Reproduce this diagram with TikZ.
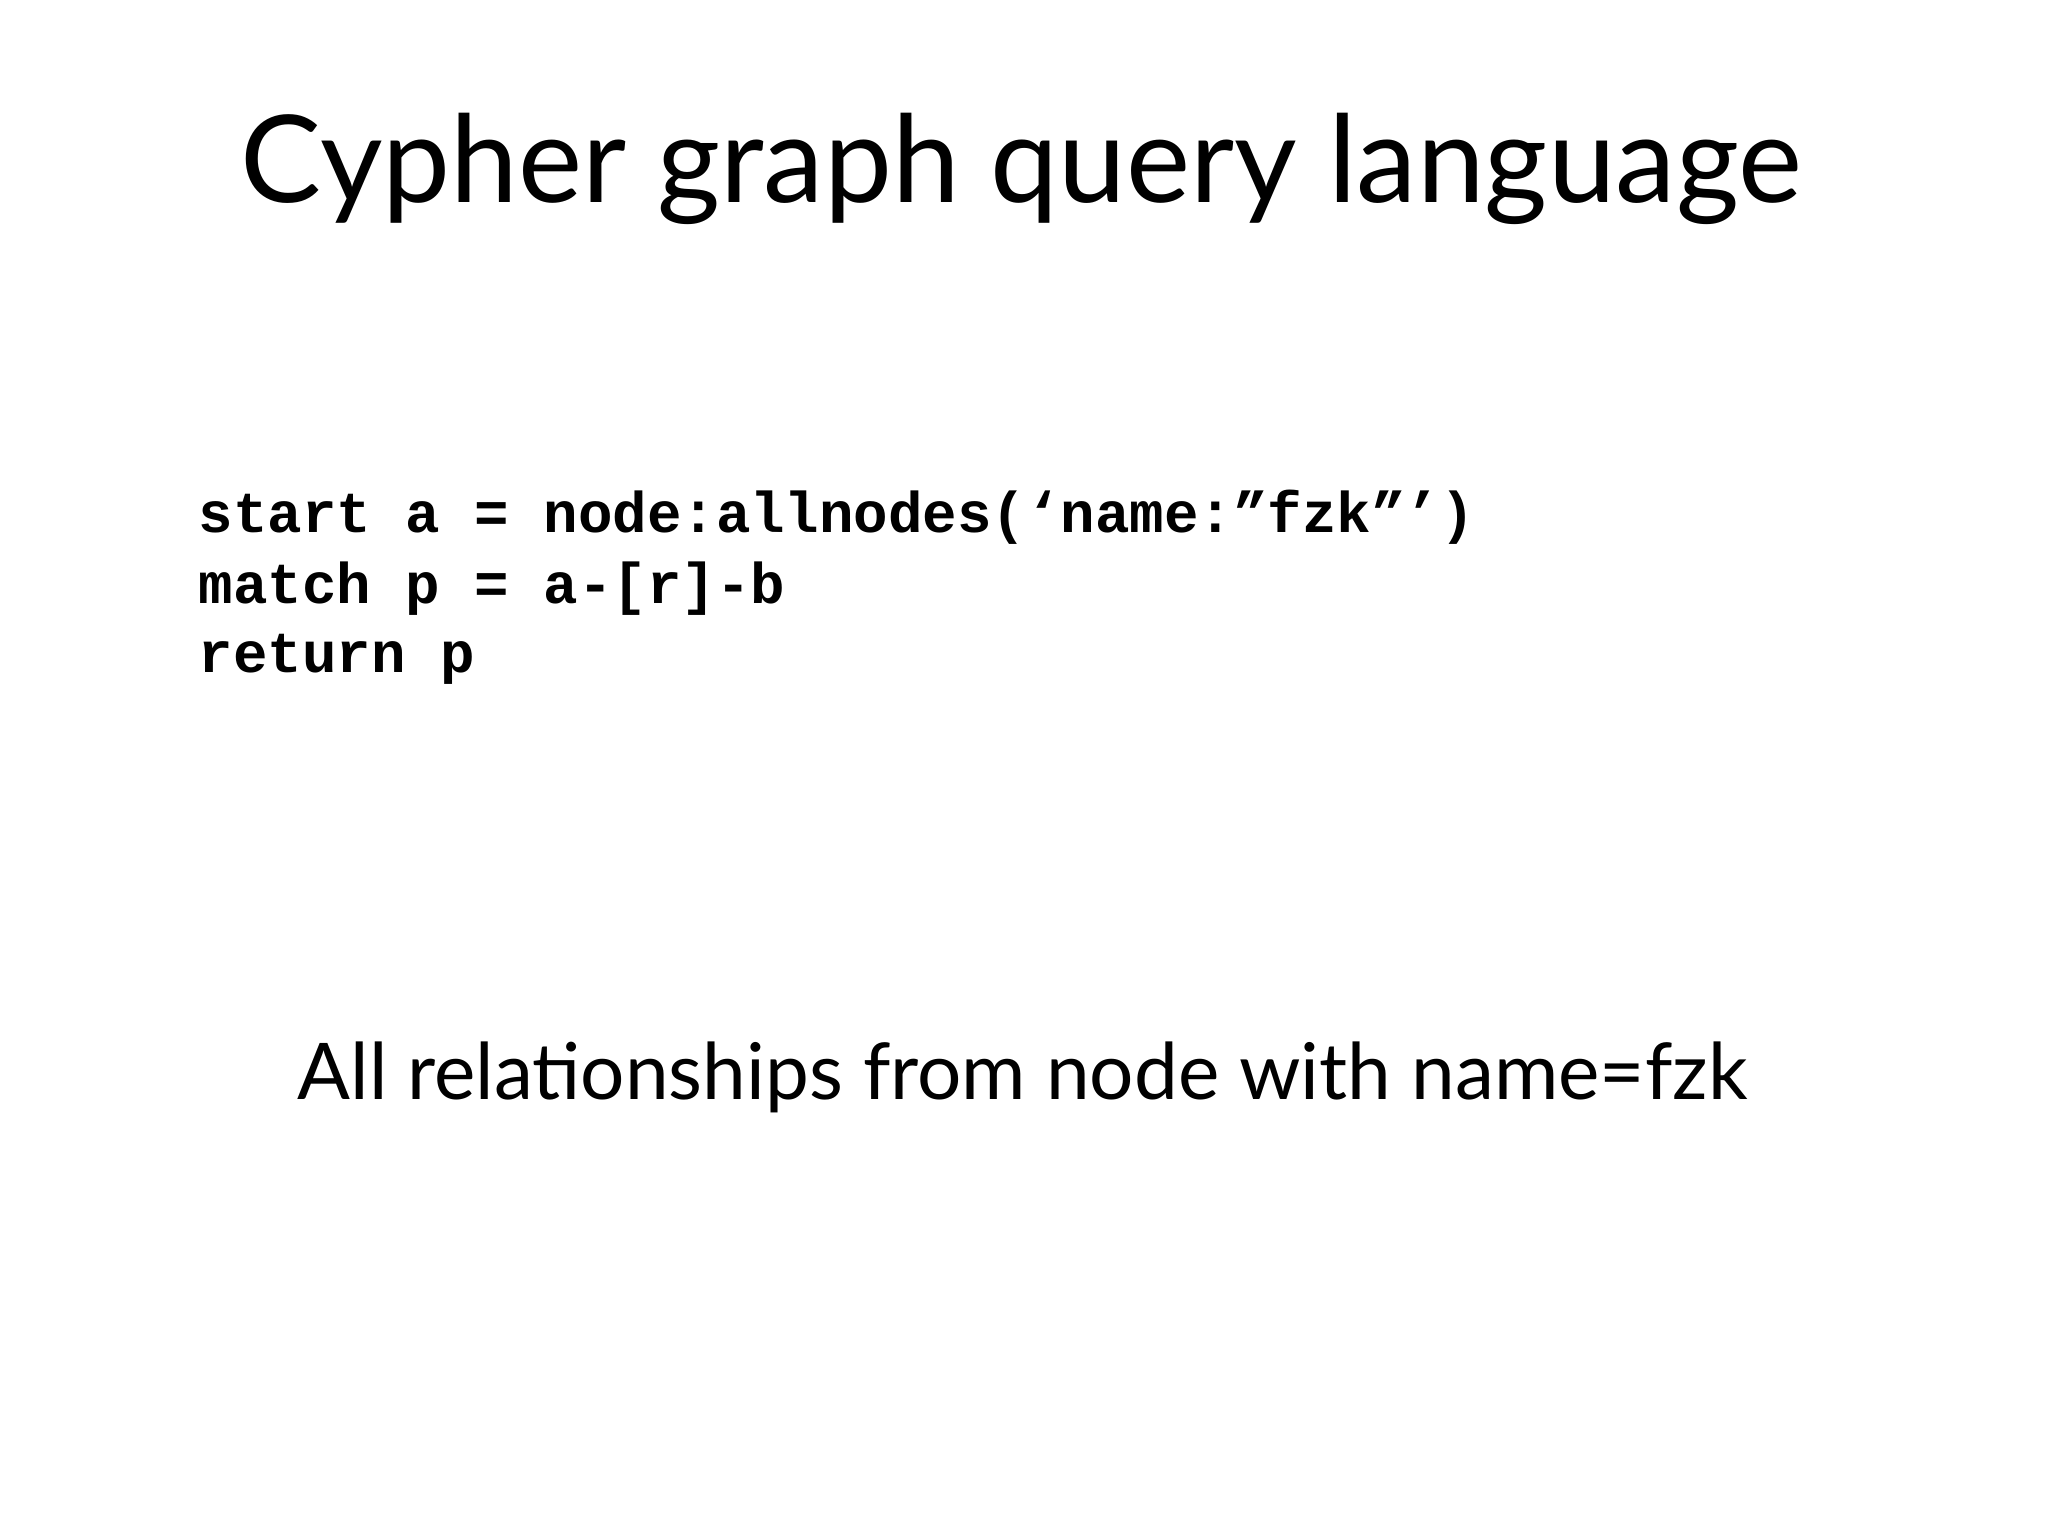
\documentclass[tikz,border=0pt]{standalone}
\usepackage{fontspec}
\setmainfont{Lato}
\setmonofont{Liberation Mono}
\begin{document}
\begin{tikzpicture}[x=1pt,y=-1pt,
  code/.style={anchor=base west,inner sep=0pt,font=\fontsize{44}{53}\selectfont\ttfamily\bfseries}]
\useasboundingbox[fill=white] (0,0) rectangle (1568,1176);
\node[anchor=base,inner sep=0pt] (title) at (782,155) {\resizebox{1195pt}{!}{\fontsize{100}{110}\selectfont Cypher graph query language}};
\node[code] (l1) at (152,408) {start a = node:allnodes(‘name:”fzk”’)};
\node[code] (l2) at (152,462) {match p = a-[r]-b};
\node[code] (l3) at (152,515) {return p};
\node[anchor=base,inner sep=0pt] (sub) at (783,842) {\resizebox{1110pt}{!}{\fontsize{60}{70}\selectfont All relationships from node with name=fzk}};
\end{tikzpicture}
\end{document}
